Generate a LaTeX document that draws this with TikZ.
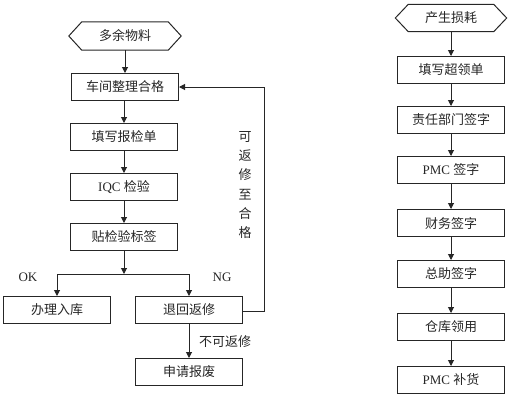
\documentclass[tikz,border=0pt]{standalone}
\usepackage{fontspec}
\setmainfont{Liberation Serif}
\newfontfamily\cjk{Noto Sans CJK SC}
\usetikzlibrary{arrows.meta}
\begin{document}
\begin{tikzpicture}[x=1pt,y=-1pt,
  txt/.style={font=\fontsize{13}{15}\selectfont, text=black!85},
  box/.style={txt, draw=black!85, line width=1pt, minimum width=107pt, minimum height=27pt, inner sep=0pt},
  hexa/.style={txt, minimum width=112pt, minimum height=28pt, inner sep=0pt},
  ln/.style={draw=black!85, line width=1pt},
  arr/.style={ln, -{Triangle[length=6pt,width=6pt]}}]
\useasboundingbox (0,0) rectangle (510,400);
% left column
\node[hexa] (h1) at (125,36) {\cjk 多余物料};
\draw[ln] (h1.west) -- ([xshift=13pt]h1.north west) -- ([xshift=-13pt]h1.north east) -- (h1.east) -- ([xshift=-13pt]h1.south east) -- ([xshift=13pt]h1.south west) -- cycle;
\node[box] (a1) at (125,87) {\cjk 车间整理合格};
\node[box] (a2) at (124,137) {\cjk 填写报检单};
\node[box] (a3) at (124,187) {IQC {\cjk 检验}};
\node[box] (a4) at (124,237) {\cjk 贴检验标签};
\coordinate (br) at (124,274);
\coordinate (brl) at (57,274);
\coordinate (brr) at (189,274);
\node[box] (b1) at (57,310) {\cjk 办理入库};
\node[box] (b2) at (189,310) {\cjk 退回返修};
\node[box] (c1) at (189,372) {\cjk 申请报废};
\node[txt] (ok) at (28,277) {OK};
\node[txt] (ng) at (222,277) {NG};
\node[txt] (nf) at (225,342) {\cjk 不可返修};
\node[txt, align=center, font=\fontsize{13}{19.3}\selectfont] (rep) at (245,185) {\cjk 可\\\cjk 返\\\cjk 修\\\cjk 至\\\cjk 合\\\cjk 格};
\coordinate (rt) at (264,311);
\coordinate (rtop) at (264,87);
\draw[arr] (h1) -- (a1);
\draw[arr] (a1.south -| a2) -- (a2);
\draw[arr] (a2) -- (a3);
\draw[arr] (a3) -- (a4);
\draw[arr] (a4) -- (br);
\draw[ln] (brl) -- (brr);
\draw[arr] (brl) -- (b1);
\draw[arr] (brr) -- (b2);
\draw[arr] (b2) -- (c1);
\draw[arr] (b2.east |- rt) -- (rt) -- (rtop) -- (a1.east);
% right column
\node[hexa, minimum width=111pt, minimum height=27pt] (r0) at (451,18) {\cjk 产生损耗};
\draw[ln] (r0.west) -- ([xshift=13pt]r0.north west) -- ([xshift=-13pt]r0.north east) -- (r0.east) -- ([xshift=-13pt]r0.south east) -- ([xshift=13pt]r0.south west) -- cycle;
\node[box] (r1) at (451,70) {\cjk 填写超领单};
\node[box] (r2) at (451,120) {\cjk 责任部门签字};
\node[box] (r3) at (451,170) {PMC {\cjk 签字}};
\node[box] (r4) at (451,223) {\cjk 财务签字};
\node[box] (r5) at (451,274) {\cjk 总助签字};
\node[box] (r6) at (451,327) {\cjk 仓库领用};
\node[box] (r7) at (451,380) {PMC {\cjk 补货}};
\draw[arr] (r0) -- (r1);
\draw[arr] (r1) -- (r2);
\draw[arr] (r2) -- (r3);
\draw[arr] (r3) -- (r4);
\draw[arr] (r4) -- (r5);
\draw[arr] (r5) -- (r6);
\draw[arr] (r6) -- (r7);
\end{tikzpicture}
\end{document}
